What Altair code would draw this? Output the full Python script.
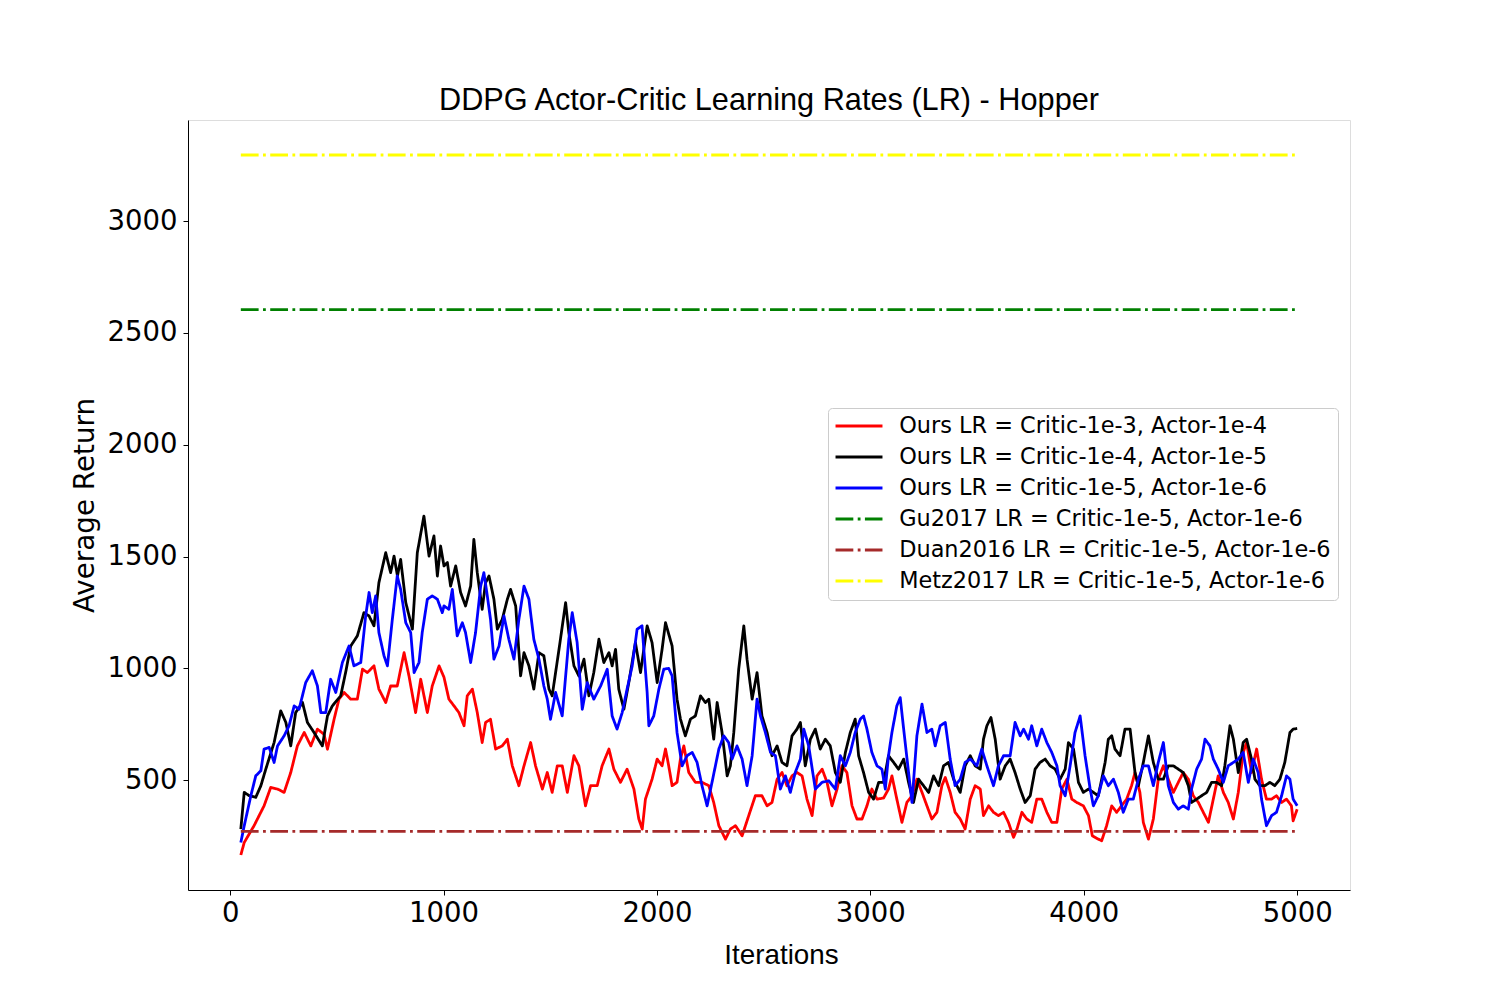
import altair as alt
import pandas as pd

# ---- data ----
series_names = [
    "Ours LR = Critic-1e-3, Actor-1e-4",
    "Ours LR = Critic-1e-4, Actor-1e-5",
    "Ours LR = Critic-1e-5, Actor-1e-6",
    "Gu2017 LR = Critic-1e-5, Actor-1e-6",
    "Duan2016 LR = Critic-1e-5, Actor-1e-6",
    "Metz2017 LR = Critic-1e-5, Actor-1e-6",
]
series_colors = ["#ff0000", "#000000", "#0000ff", "#008000", "#a52a2a", "#ffff00"]

red_x = [50, 66, 112, 159, 190, 222, 253, 284, 315, 347, 378, 409, 440, 456, 487, 510, 534, 565, 596, 620,
         643, 674, 697, 729, 752, 783, 815, 838, 869, 893, 924, 947, 979, 1002, 1025, 1049, 1072, 1096, 1111, 1135,
         1158, 1181, 1197, 1220, 1244, 1275, 1299, 1322, 1353, 1377, 1408, 1431, 1463, 1486, 1509, 1533, 1556, 1580, 1611, 1634,
         1665, 1689, 1720, 1743, 1775, 1798, 1829, 1860, 1892, 1915, 1931, 1946, 1977, 2001, 2024, 2040, 2055, 2071, 2094, 2110,
         2126, 2149, 2180, 2211, 2243, 2266, 2290, 2321, 2344, 2368, 2399, 2430, 2461, 2492, 2516, 2539, 2563, 2586, 2609, 2633,
         2656, 2680, 2703, 2727, 2750, 2774, 2797, 2820, 2844, 2867, 2890, 2914, 2937, 2961, 2984, 3007, 3031, 3062, 3085, 3101,
         3124, 3148, 3171, 3195, 3218, 3242, 3265, 3288, 3312, 3335, 3351, 3374, 3397, 3421, 3444, 3468, 3491, 3515, 3530, 3554,
         3577, 3600, 3624, 3647, 3671, 3687, 3710, 3733, 3756, 3780, 3803, 3827, 3850, 3874, 3897, 3921, 3944, 3967, 3998, 4022,
         4040, 4068, 4084, 4107, 4131, 4154, 4177, 4201, 4224, 4240, 4263, 4279, 4303, 4326, 4349, 4373, 4396, 4420, 4443, 4466,
         4490, 4513, 4537, 4560, 4584, 4607, 4630, 4654, 4677, 4701, 4724, 4747, 4763, 4786, 4810, 4833, 4856, 4880, 4903, 4927,
         4950, 4973, 4981, 5000]
red_y = [165, 221, 296, 385, 467, 460, 445, 534, 653, 713, 653, 728, 705, 638, 772, 862, 892, 862, 862, 996,
         981, 1011, 907, 847, 921, 921, 1070, 966, 802, 951, 802, 921, 1011, 960, 862, 832, 802, 743, 877, 907,
         802, 668, 758, 772, 639, 653, 683, 564, 475, 564, 668, 564, 460, 534, 445, 564, 564, 445, 609, 564,
         385, 475, 475, 564, 639, 549, 490, 549, 460, 326, 281, 415, 504, 594, 564, 639, 564, 475, 490, 594,
         653, 534, 490, 490, 475, 400, 296, 236, 281, 296, 251, 341, 430, 430, 385, 400, 504, 534, 475, 519,
         534, 519, 415, 341, 519, 549, 490, 385, 460, 564, 534, 385, 326, 326, 385, 460, 415, 420, 460, 519,
         415, 311, 400, 430, 504, 445, 385, 326, 356, 475, 512, 445, 356, 326, 281, 415, 475, 460, 341, 385,
         356, 341, 356, 311, 244, 281, 356, 326, 311, 415, 415, 356, 311, 311, 460, 504, 415, 400, 385, 341,
         251, 236, 229, 296, 385, 356, 385, 415, 475, 534, 445, 311, 236, 326, 504, 564, 504, 445, 490, 534,
         504, 430, 400, 356, 311, 415, 519, 445, 400, 326, 445, 624, 668, 534, 639, 504, 415, 415, 430, 400,
         415, 385, 318, 370]

black_x = [50, 66, 90, 120, 144, 167, 206, 237, 261, 284, 307, 339, 362, 393, 432, 456, 479, 518, 541, 565,
           596, 627, 651, 674, 697, 729, 752, 768, 784, 799, 823, 854, 877, 908, 932, 955, 971, 986, 1002, 1018,
           1033, 1057, 1080, 1103, 1127, 1142, 1158, 1181, 1197, 1213, 1236, 1252, 1275, 1299, 1314, 1338, 1361, 1377, 1400, 1423,
           1447, 1470, 1494, 1509, 1541, 1572, 1587, 1611, 1634, 1658, 1681, 1704, 1728, 1751, 1775, 1790, 1806, 1821, 1845, 1868,
           1899, 1923, 1954, 1977, 2001, 2024, 2040, 2071, 2094, 2110, 2133, 2157, 2180, 2204, 2227, 2243, 2266, 2282, 2305, 2329,
           2344, 2360, 2383, 2407, 2422, 2446, 2469, 2492, 2516, 2539, 2563, 2586, 2609, 2633, 2656, 2672, 2695, 2719, 2742, 2765,
           2789, 2812, 2836, 2859, 2883, 2906, 2929, 2945, 2968, 2992, 3015, 3039, 3062, 3085, 3109, 3132, 3156, 3179, 3202, 3226,
           3249, 3273, 3296, 3320, 3343, 3366, 3390, 3421, 3444, 3468, 3491, 3515, 3530, 3546, 3565, 3585, 3608, 3632, 3655, 3678,
           3702, 3725, 3749, 3772, 3795, 3819, 3842, 3866, 3889, 3913, 3928, 3952, 3975, 3998, 4022, 4045, 4068, 4084, 4100, 4115,
           4131, 4146, 4170, 4193, 4217, 4240, 4256, 4279, 4303, 4326, 4349, 4373, 4396, 4420, 4443, 4466, 4490, 4505, 4529, 4552,
           4576, 4599, 4622, 4646, 4661, 4685, 4701, 4724, 4747, 4763, 4786, 4802, 4825, 4849, 4872, 4895, 4919, 4942, 4966, 4981,
           5000]
black_y = [281, 445, 430, 423, 475, 549, 668, 810, 758, 653, 802, 847, 758, 713, 653, 787, 832, 877, 981, 1100,
           1145, 1249, 1234, 1190, 1383, 1517, 1428, 1502, 1413, 1487, 1294, 1175, 1517, 1681, 1502, 1592, 1413, 1547, 1458, 1473,
           1368, 1458, 1339, 1279, 1368, 1577, 1428, 1264, 1383, 1413, 1309, 1175, 1219, 1309, 1353, 1279, 966, 1070, 1011, 907,
           1070, 1056, 907, 877, 1085, 1294, 1160, 1011, 966, 1041, 877, 981, 1130, 1026, 1070, 1011, 1085, 907, 817, 936,
           1115, 981, 1190, 1115, 936, 1085, 1204, 1100, 862, 773, 698, 773, 787, 877, 847, 862, 683, 847, 713, 519,
           564, 713, 996, 1190, 1041, 862, 981, 787, 713, 609, 653, 579, 564, 698, 728, 758, 564, 683, 728, 639,
           683, 653, 534, 490, 624, 713, 773, 609, 534, 445, 415, 490, 490, 609, 579, 549, 594, 490, 400, 504,
           475, 445, 519, 475, 564, 579, 504, 445, 564, 609, 564, 549, 683, 743, 780, 683, 504, 564, 594, 534,
           460, 400, 430, 549, 579, 594, 564, 549, 504, 549, 668, 639, 490, 445, 460, 445, 430, 504, 579, 683,
           698, 639, 609, 728, 728, 534, 475, 579, 698, 579, 504, 504, 564, 564, 549, 534, 475, 400, 415, 430,
           445, 490, 490, 475, 564, 743, 683, 534, 668, 683, 594, 504, 475, 475, 490, 475, 504, 579, 713, 728,
           731]

blue_x = [50, 66, 97, 120, 144, 159, 183, 206, 222, 253, 276, 300, 323, 354, 385, 409, 425, 448, 471, 495,
          526, 557, 580, 612, 635, 651, 666, 682, 697, 721, 737, 760, 783, 799, 823, 846, 862, 885, 900, 924,
          947, 971, 994, 1002, 1025, 1041, 1064, 1088, 1103, 1127, 1150, 1174, 1189, 1205, 1220, 1236, 1260, 1283, 1306, 1330,
          1353, 1377, 1400, 1423, 1447, 1470, 1486, 1501, 1525, 1556, 1587, 1603, 1626, 1650, 1673, 1704, 1736, 1767, 1790, 1813,
          1837, 1860, 1884, 1907, 1930, 1954, 1962, 1985, 2009, 2032, 2055, 2071, 2094, 2118, 2141, 2165, 2188, 2211, 2235, 2258,
          2290, 2313, 2336, 2352, 2375, 2399, 2422, 2446, 2469, 2485, 2508, 2532, 2555, 2578, 2602, 2625, 2648, 2672, 2688, 2711,
          2742, 2774, 2805, 2836, 2859, 2883, 2906, 2929, 2953, 2968, 2984, 3007, 3031, 3054, 3070, 3085, 3101, 3124, 3140, 3156,
          3179, 3195, 3218, 3242, 3265, 3288, 3304, 3327, 3351, 3374, 3397, 3421, 3444, 3468, 3499, 3522, 3546, 3577, 3600, 3624,
          3655, 3678, 3702, 3718, 3741, 3756, 3780, 3803, 3827, 3850, 3874, 3889, 3913, 3936, 3959, 3983, 4006, 4030, 4045, 4068,
          4092, 4115, 4139, 4162, 4185, 4209, 4232, 4256, 4279, 4303, 4326, 4349, 4373, 4396, 4420, 4443, 4466, 4490, 4505, 4529,
          4552, 4568, 4591, 4607, 4630, 4654, 4677, 4701, 4724, 4747, 4771, 4794, 4817, 4833, 4856, 4880, 4903, 4927, 4950, 4966,
          4981, 5000]
blue_y = [221, 296, 430, 519, 542, 639, 646, 579, 653, 698, 743, 832, 817, 936, 989, 921, 802, 802, 951, 892,
          1026, 1100, 1011, 1026, 1234, 1339, 1249, 1324, 1160, 1056, 1011, 1219, 1413, 1353, 1204, 1160, 981, 1026, 1160, 1309,
          1324, 1309, 1249, 1279, 1264, 1353, 1145, 1204, 1160, 1026, 1160, 1368, 1428, 1324, 1219, 1041, 1100, 1234, 1130, 1041,
          1219, 1368, 1309, 1130, 1041, 921, 862, 772, 892, 787, 1130, 1249, 1115, 817, 936, 862, 921, 996, 787, 728,
          802, 907, 1011, 1175, 1190, 892, 743, 787, 907, 996, 1000, 966, 713, 564, 609, 624, 579, 475, 385, 490,
          639, 698, 668, 594, 653, 594, 475, 609, 862, 787, 713, 624, 609, 460, 519, 445, 534, 594, 728, 653,
          460, 490, 497, 460, 609, 564, 624, 713, 773, 787, 728, 624, 564, 549, 460, 609, 713, 832, 869, 728,
          534, 400, 698, 840, 713, 728, 653, 743, 758, 594, 475, 504, 579, 594, 564, 639, 564, 475, 564, 609,
          609, 758, 698, 728, 683, 743, 653, 728, 668, 624, 564, 475, 430, 564, 713, 787, 609, 460, 385, 430,
          519, 475, 504, 445, 356, 415, 415, 504, 564, 564, 475, 579, 668, 475, 400, 370, 385, 370, 460, 549,
          594, 683, 653, 594, 549, 490, 564, 579, 594, 624, 490, 594, 534, 415, 296, 341, 356, 430, 519, 504,
          415, 385]

const_x = [50, 5000]
gu_level = 2604
duan_level = 271
metz_level = 3296

# ---- long-form table ----
rows = []
for name, xs, ys in [(series_names[0], red_x, red_y),
                     (series_names[1], black_x, black_y),
                     (series_names[2], blue_x, blue_y)]:
    for i, (a, b) in enumerate(zip(xs, ys)):
        rows.append({"series": name, "iter": a, "ret": b, "order": i})
for name, lvl in [(series_names[3], gu_level), (series_names[4], duan_level), (series_names[5], metz_level)]:
    for i, a in enumerate(const_x):
        rows.append({"series": name, "iter": a, "ret": lvl, "order": i})
df = pd.DataFrame(rows)

# matplotlib-like 5% margins
xmin, xmax = 50, 5000
ymin = min(red_y + black_y + blue_y + [duan_level])
ymax = max(red_y + black_y + blue_y + [metz_level])
xpad = 0.05 * (xmax - xmin)
ypad = 0.05 * (ymax - ymin)

dashdot = [17.8, 4.4, 2.8, 4.4]
dash_range = [[1, 0], [1, 0], [1, 0], dashdot, dashdot, dashdot]

legend_kw = dict(title=None, orient="none", legendX=640, legendY=288,
                 labelFont="DejaVu Sans", labelFontSize=22.4, labelColor="black",
                 symbolType="M-3,0H3", symbolSize=245, symbolStrokeWidth=2.8,
                 symbolOffset=13, labelOffset=29, rowPadding=8.0, padding=6.8,
                 strokeColor="#cccccc", fillColor="rgba(255,255,255,0.8)",
                 cornerRadius=4, labelLimit=700)

chart = alt.Chart(df).mark_line(strokeWidth=2.8, strokeCap="butt", strokeJoin="round", clip=True).encode(
    x=alt.X("iter:Q",
            scale=alt.Scale(domain=[xmin - xpad, xmax + xpad], nice=False, zero=False),
            axis=alt.Axis(title="Iterations", values=[0, 1000, 2000, 3000, 4000, 5000], format="d",
                          grid=False, labelFont="DejaVu Sans", labelFontSize=27.5, labelColor="black",
                          titleFont="Liberation Sans", titleFontSize=27.8, titleFontWeight="normal", titleColor="black",
                          tickSize=5, tickColor="black", domainColor="black", labelPadding=4, titlePadding=15,
                          titleX=593, titleAlign="center", labelFlush=False)),
    y=alt.Y("ret:Q",
            scale=alt.Scale(domain=[ymin - ypad, ymax + ypad], nice=False, zero=False),
            axis=alt.Axis(title="Average Return", values=[500, 1000, 1500, 2000, 2500, 3000], format="d",
                          grid=False, labelFont="DejaVu Sans", labelFontSize=27.5, labelColor="black",
                          titleFont="DejaVu Sans", titleFontSize=27.8, titleFontWeight="normal", titleColor="black",
                          tickSize=5, tickColor="black", domainColor="black", labelPadding=6, titlePadding=8,
                          labelFlush=False)),
    color=alt.Color("series:N",
                    scale=alt.Scale(domain=series_names, range=series_colors),
                    legend=alt.Legend(**legend_kw)),
    strokeDash=alt.StrokeDash("series:N",
                              scale=alt.Scale(domain=series_names, range=dash_range),
                              legend=alt.Legend(**legend_kw)),
    order="order:Q",
    detail="series:N",
).properties(
    width=1162,
    height=770,
    title=alt.TitleParams("DDPG Actor-Critic Learning Rates (LR) - Hopper", font="Liberation Sans",
                          fontSize=30.7, fontWeight="normal", color="black", offset=3, anchor="middle"),
    autosize=alt.AutoSizeParams(type="none"),
    padding={"left": 180, "top": 112, "right": 142, "bottom": 102},
).configure_view(
    stroke="black", strokeWidth=1.4
).configure(background="white")

chart.save("out.html", embed_options={"renderer": "svg", "actions": False})
